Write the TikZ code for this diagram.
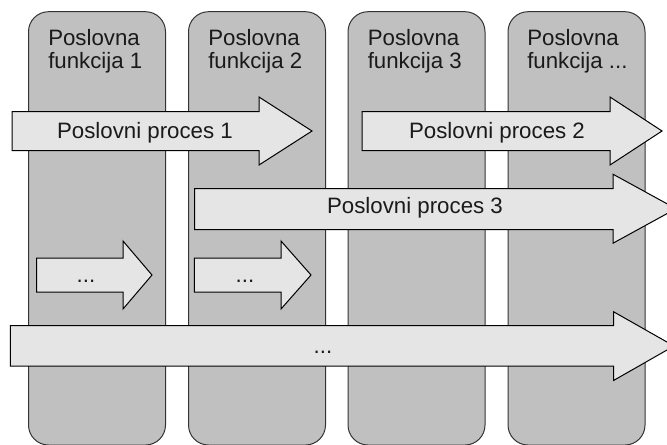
\documentclass[tikz,border=0pt]{standalone}
\usepackage{fontspec}
\setmainfont{Liberation Sans}
\definecolor{lanegray}{HTML}{C0C0C0}
\definecolor{arrowgray}{HTML}{E5E5E5}
\definecolor{textgray}{HTML}{1A1A1A}
\begin{document}
\begin{tikzpicture}[x=0.75pt,y=-0.75pt,
  lane/.style={draw=black!80, fill=lanegray, line width=0.75pt, rounded corners=15pt},
  procarrow/.style={draw=black, fill=arrowgray, line width=0.75pt, line join=miter},
  lanelabel/.style={anchor=base west, inner sep=0pt, text=textgray, font=\fontsize{16.7}{17.25}\selectfont},
  proclabel/.style={anchor=base, inner sep=0pt, text=textgray, font=\fontsize{16.7}{17.25}\selectfont}]
\useasboundingbox (0,0) rectangle (667,444);
\clip (0,0) rectangle (667,444);
% lanes (business functions)
\draw[lane] (28.5,11.7) rectangle (165.5,445);
\draw[lane] (188.5,11.7) rectangle (325.5,445);
\draw[lane] (348,11.7) rectangle (485,445);
\draw[lane] (508,11.7) rectangle (645,445);
\node[lanelabel] (f1) at (48,45) {\begin{tabular}[t]{@{}l@{}}Poslovna\\funkcija 1\end{tabular}};
\node[lanelabel] (f2) at (208,45) {\begin{tabular}[t]{@{}l@{}}Poslovna\\funkcija 2\end{tabular}};
\node[lanelabel] (f3) at (367.5,45) {\begin{tabular}[t]{@{}l@{}}Poslovna\\funkcija 3\end{tabular}};
\node[lanelabel] (f4) at (527,45) {\begin{tabular}[t]{@{}l@{}}Poslovna\\funkcija ...\end{tabular}};
% process arrows
\draw[procarrow] (12,111.5) -- (259,111.5) -- (259,97) -- (312,131) -- (259,165) -- (259,150.5) -- (12,150.5) -- cycle;
\node[proclabel] (p1) at (145,138) {Poslovni proces 1};
\draw[procarrow] (362,111.5) -- (610,111.5) -- (610,97) -- (662,131) -- (610,165) -- (610,150.5) -- (362,150.5) -- cycle;
\node[proclabel] (p2) at (497,138) {Poslovni proces 2};
\draw[procarrow] (194.5,188.5) -- (613,188.5) -- (613,174.2) -- (676,208.7) -- (613,243.2) -- (613,229.5) -- (194.5,229.5) -- cycle;
\node[proclabel] (p3) at (415,213.3) {Poslovni proces 3};
\draw[procarrow] (36.7,258) -- (123,258) -- (123,241) -- (152,275) -- (123,309) -- (123,292) -- (36.7,292) -- cycle;
\node[proclabel] (s1) at (86,282) {...};
\draw[procarrow] (194.3,258) -- (281,258) -- (281,241) -- (311,275) -- (281,309) -- (281,292) -- (194.3,292) -- cycle;
\node[proclabel] (s2) at (245,282) {...};
\draw[procarrow] (10.3,325.5) -- (613.5,325.5) -- (613.5,311.7) -- (674,346) -- (613.5,380.5) -- (613.5,366) -- (10.3,366) -- cycle;
\node[proclabel] (p4) at (323,353) {...};
\end{tikzpicture}
\end{document}
